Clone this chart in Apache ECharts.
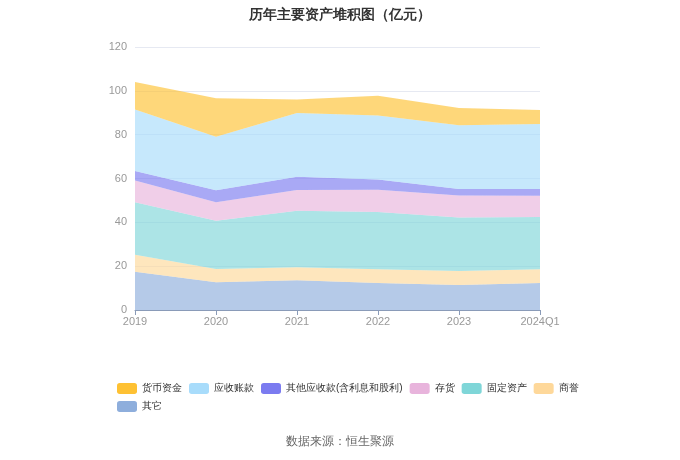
<!DOCTYPE html>
<html><head><meta charset="utf-8">
<script src="https://cdn.jsdelivr.net/npm/echarts@6/dist/echarts.min.js"></script>
<style>html,body{margin:0;padding:0;background:#fff}#c{width:680px;height:460px}</style>
</head><body><div id="c"></div>
<script>
const categories = ['2019','2020','2021','2022','2023','2024Q1'];
const seriesNames = ['货币资金','应收账款','其他应收款(含利息和股利)','存货','固定资产','商誉','其它'];
const cash = [12.5, 17.6, 6.1, 9.0, 7.9, 6.4];
const receivables = [28.1, 24.4, 29.1, 29.2, 29.1, 29.7];
const otherReceivables = [4.3, 5.4, 6.1, 4.6, 2.9, 3.1];
const inventory = [9.9, 8.5, 9.4, 10.2, 10.1, 9.7];
const fixedAssets = [24.0, 22.0, 25.8, 26.1, 24.4, 23.8];
const goodwill = [7.7, 6.0, 5.9, 6.3, 6.4, 6.3];
const others = [17.5, 12.7, 13.6, 12.3, 11.4, 12.3];
const yTicks = [0, 20, 40, 60, 80, 100, 120];

const colors = ['#fec133','#a8dcfb','#7b7bf0','#e8b4dc','#7fd6d8','#fed89a','#8eaedc'];
const dataMap = {'货币资金':cash,'应收账款':receivables,'其他应收款(含利息和股利)':otherReceivables,'存货':inventory,'固定资产':fixedAssets,'商誉':goodwill,'其它':others};
// stacking order: bottom first
const stackOrder = ['其它','商誉','固定资产','存货','其他应收款(含利息和股利)','应收账款','货币资金'];
const series = stackOrder.map(n => ({
  name: n, type: 'line', stack: 'total', symbol: 'none', smooth: false,
  lineStyle: {width: 0},
  itemStyle: {color: colors[seriesNames.indexOf(n)]},
  areaStyle: {opacity: 0.65, color: colors[seriesNames.indexOf(n)]},
  data: dataMap[n]
}));
const chart = echarts.init(document.getElementById('c'));
chart.setOption({
  animation: false,
  title: {text: '历年主要资产堆积图（亿元）', left: 'center', top: 3,
    textStyle: {fontSize: 14, fontWeight: 'bold', color: '#333'}},
  legend: {data: seriesNames, left: 112, top: 378, width: 470, itemWidth: 20, itemHeight: 11,
    itemGap: 7, textStyle: {fontSize: 10, color: '#333'}, icon: 'roundRect'},
  grid: {left: 135, right: 140, top: 47, bottom: 150},
  xAxis: {type: 'category', data: categories, boundaryGap: false,
    axisLine: {lineStyle: {color: '#8a9bb8'}}, axisTick: {lineStyle: {color: '#8a9bb8'}},
    axisLabel: {color: '#999', fontSize: 11, margin: 6}},
  yAxis: {type: 'value', min: yTicks[0], max: yTicks[yTicks.length-1], interval: 20,
    axisLabel: {color: '#999', fontSize: 11},
    splitLine: {lineStyle: {color: '#e6e9f2'}}},
  graphic: [{type: 'text', left: 'center', top: 436,
    style: {text: '数据来源：恒生聚源', fontSize: 12, fill: '#666'}}],
  series: series
});
</script></body></html>
